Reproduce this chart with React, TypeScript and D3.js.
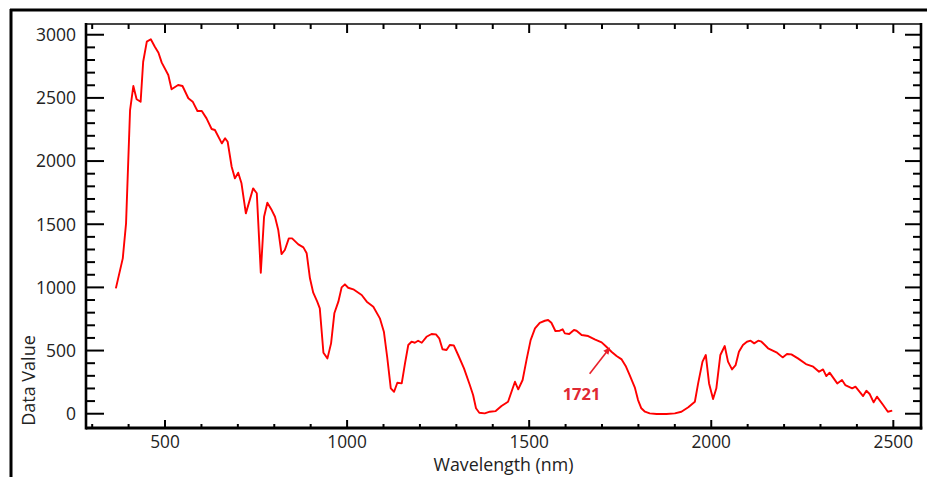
import React from "react";
import * as d3 from "d3";

const wavelengths = [
  365, 384, 393, 404, 413, 422, 433, 440, 450, 461, 472, 482, 491, 509, 518, 536, 548, 564, 576, 589,
  601, 614, 628, 637, 656, 665, 672, 683, 692, 701, 710, 722, 742, 752, 763, 772, 781, 793, 802, 811,
  820, 829, 840, 849, 866, 880, 889, 898, 907, 918, 925, 935, 946, 956, 965, 976, 985, 994, 1003, 1017,
  1040, 1054, 1072, 1090, 1101, 1110, 1120, 1129, 1138, 1150, 1159, 1168, 1177, 1186, 1195, 1205, 1218,
  1232, 1244, 1253, 1262, 1273, 1282, 1293, 1305, 1321, 1337, 1346, 1354, 1363, 1378, 1392, 1408, 1424,
  1442, 1461, 1470, 1482, 1493, 1504, 1516, 1529, 1543, 1552, 1561, 1572, 1584, 1592, 1598, 1610, 1623,
  1630, 1644, 1662, 1680, 1699, 1712, 1726, 1740, 1754, 1765, 1776, 1790, 1799, 1808, 1818, 1831, 1850,
  1877, 1900, 1918, 1937, 1955, 1964, 1976, 1985, 1994, 2005, 2014, 2025, 2037, 2046, 2057, 2067, 2076,
  2087, 2098, 2108, 2118, 2129, 2138, 2156, 2179, 2196, 2208, 2220, 2238, 2260, 2280, 2296, 2307, 2316,
  2325, 2346, 2359, 2368, 2387, 2396, 2417, 2426, 2435, 2446, 2455, 2472, 2485, 2497,
];

const dataValues = [
  992, 1230, 1507, 2404, 2594, 2489, 2470, 2786, 2945, 2964, 2905, 2858, 2779, 2681, 2568, 2602, 2594, 2497, 2470, 2396,
  2396, 2338, 2254, 2246, 2140, 2180, 2153, 1955, 1863, 1908, 1824, 1586, 1784, 1745, 1116, 1559, 1670, 1612, 1559, 1454,
  1264, 1296, 1388, 1388, 1341, 1317, 1270, 1072, 958, 887, 834, 483, 438, 557, 795, 887, 1000, 1024, 997, 985,
  940, 887, 847, 755, 649, 451, 201, 174, 245, 240, 399, 544, 570, 562, 578, 562, 609,
  631, 628, 597, 510, 504, 544, 541, 465, 359, 227, 148, 43, 8, 3, 16, 21, 61,
  95, 253, 193, 267, 430, 583, 676, 720, 736, 742, 720, 655, 657, 668, 636, 631, 663,
  657, 623, 615, 589, 565, 530, 491, 457, 430, 378, 306, 209, 108, 43, 16, 3, -2,
  -2, 3, 16, 51, 95, 240, 412, 465, 240, 116, 201, 465, 536, 412, 351, 385, 491,
  544, 570, 578, 557, 578, 570, 518, 486, 446, 473, 470, 438, 393, 372, 332, 351, 298,
  325, 240, 267, 227, 201, 214, 140, 182, 156, 90, 135, 69, 16, 24,
];

const xTickLabels = [500, 1000, 1500, 2000, 2500];
const yTickLabels = [0, 500, 1000, 1500, 2000, 2500, 3000];
const xAxisTitle = "Wavelength (nm)";
const yAxisTitle = "Data Value";
const annotationWavelength = 1721;
const annotationLabel = "1721";

const W = 927;
const H = 477;
const L = 86, R = 921, T = 24, B = 428;
const FONT = "'Open Sans', 'Liberation Sans', sans-serif";

export default function App() {
  const x = d3.scaleLinear().domain([283, 2576]).range([L, R]);
  const y = d3.scaleLinear().domain([-113, 3085]).range([B, T]);

  const pts = wavelengths.map((w, i) => [w, dataValues[i]] as [number, number]);
  const line = d3
    .line<[number, number]>()
    .x((d) => x(d[0]))
    .y((d) => y(d[1]));

  const xMinor = d3.range(300, 2501, 100).filter((v) => v % 500 !== 0);
  const yMinor = d3.range(100, 3001, 100).filter((v) => v % 500 !== 0);

  // annotation arrow: points toward curve at 1721
  const ax = x(annotationWavelength);
  const ay = y(530);
  const arrowStart = [ax - 20, ay + 27];
  const arrowEnd = [ax + 0.5, ay + 0.5];
  const ang = Math.atan2(arrowEnd[1] - arrowStart[1], arrowEnd[0] - arrowStart[0]);
  const hl = 7, hw = 3.2;
  const hx1 = arrowEnd[0] - hl * Math.cos(ang) + hw * Math.sin(ang);
  const hy1 = arrowEnd[1] - hl * Math.sin(ang) - hw * Math.cos(ang);
  const hx2 = arrowEnd[0] - hl * Math.cos(ang) - hw * Math.sin(ang);
  const hy2 = arrowEnd[1] - hl * Math.sin(ang) + hw * Math.cos(ang);

  return (
    <svg
      width={W}
      height={H}
      style={{ position: "absolute", left: 0, top: 0, background: "#fff" }}
      fontFamily={FONT}
    >
      {/* outer frame (top & left edges) */}
      <line x1={10} y1={10} x2={W} y2={10} stroke="#000" strokeWidth={3} />
      <line x1={11} y1={9} x2={11} y2={H} stroke="#000" strokeWidth={3} />

      {/* plot frame */}
      <line x1={L} y1={T} x2={R} y2={T} stroke="#444" strokeWidth={2} />
      <line x1={L} y1={T - 1} x2={L} y2={B + 1.5} stroke="#000" strokeWidth={2.6} />
      <line x1={R} y1={T - 1} x2={R} y2={B + 1.5} stroke="#000" strokeWidth={2.6} />
      <line x1={L} y1={B} x2={R + 1.3} y2={B} stroke="#000" strokeWidth={2.8} />

      {/* x ticks bottom & top */}
      {xTickLabels.map((v) => (
        <g key={"xm" + v}>
          <line x1={x(v)} x2={x(v)} y1={B} y2={B - 8} stroke="#000" strokeWidth={2} />
          <line x1={x(v)} x2={x(v)} y1={T} y2={T + 9} stroke="#000" strokeWidth={2} />
          <text x={x(v)} y={447.5} textAnchor="middle" fontSize={17.3} fill="#222">
            {v}
          </text>
        </g>
      ))}
      {xMinor.map((v) => (
        <g key={"xn" + v}>
          <line x1={x(v)} x2={x(v)} y1={B} y2={B - 4} stroke="#000" strokeWidth={2} />
          <line x1={x(v)} x2={x(v)} y1={T} y2={T + 5} stroke="#000" strokeWidth={2} />
        </g>
      ))}

      {/* y ticks left & right */}
      {yTickLabels.map((v) => (
        <g key={"ym" + v}>
          <line x1={L} x2={L + 18} y1={y(v)} y2={y(v)} stroke="#000" strokeWidth={2} />
          <line x1={R} x2={R - 16} y1={y(v)} y2={y(v)} stroke="#000" strokeWidth={2} />
          <text
            x={76}
            y={y(v)}
            dy="0.36em"
            textAnchor="end"
            fontSize={17.5}
            fill="#222"
          >
            {v}
          </text>
        </g>
      ))}
      {yMinor.map((v) => (
        <g key={"yn" + v}>
          <line x1={L} x2={L + 9} y1={y(v)} y2={y(v)} stroke="#000" strokeWidth={2} />
          <line x1={R} x2={R - 8} y1={y(v)} y2={y(v)} stroke="#000" strokeWidth={2} />
        </g>
      ))}

      {/* axis titles */}
      <text x={503.5} y={471} textAnchor="middle" fontSize={17.8} fill="#222">
        {xAxisTitle}
      </text>
      <text
        transform={`translate(35,380.5) rotate(-90)`}
        textAnchor="middle"
        fontSize={18}
        fill="#222"
      >
        {yAxisTitle}
      </text>

      {/* spectrum */}
      <path d={line(pts) ?? ""} fill="none" stroke="#ff0000" strokeWidth={1.9} strokeLinejoin="round" />

      {/* annotation */}
      <line
        x1={arrowStart[0]}
        y1={arrowStart[1]}
        x2={arrowEnd[0] - 3 * Math.cos(ang)}
        y2={arrowEnd[1] - 3 * Math.sin(ang)}
        stroke="#e8202a"
        strokeWidth={1.6}
      />
      <polygon points={`${arrowEnd[0]},${arrowEnd[1]} ${hx1},${hy1} ${hx2},${hy2}`} fill="#e8202a" />
      <text x={581.5} y={400} textAnchor="middle" fontSize={16.5} fontWeight="bold" fill="#e02832">
        {annotationLabel}
      </text>
    </svg>
  );
}
